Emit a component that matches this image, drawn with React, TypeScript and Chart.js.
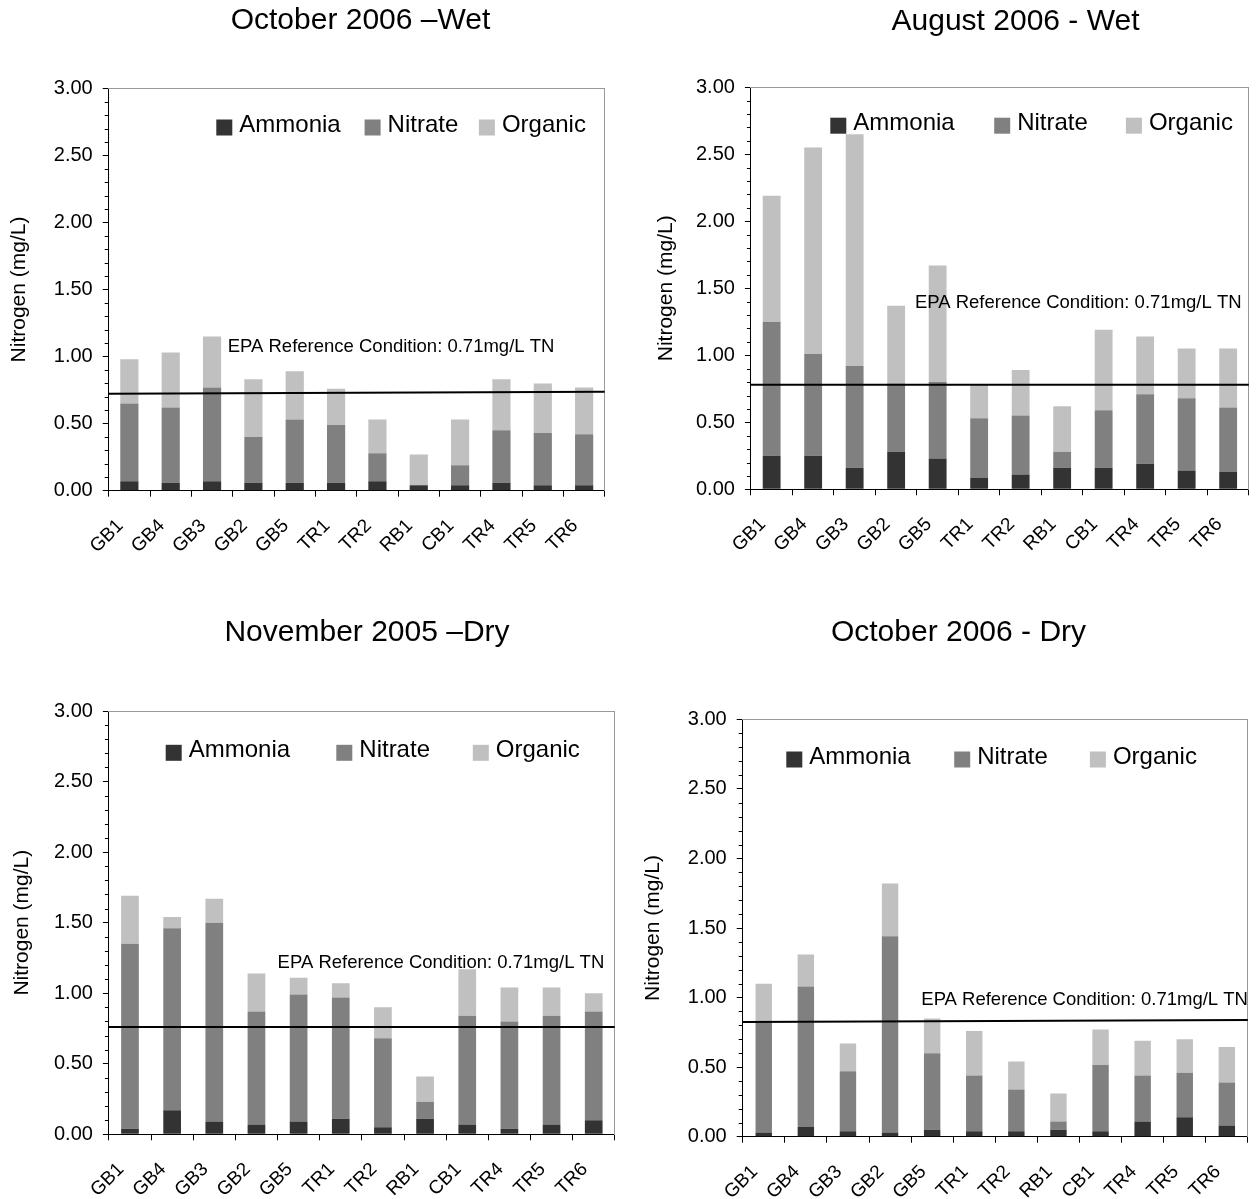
import React, { useEffect, useRef } from 'react';
import { Chart, registerables } from 'chart.js';

Chart.register(...registerables);

const FONT = "'Liberation Sans', Arial, sans-serif";
Chart.defaults.font.family = FONT;
Chart.defaults.color = '#000';

// ---------- data ----------
const categories = ['GB1', 'GB4', 'GB3', 'GB2', 'GB5', 'TR1', 'TR2', 'RB1', 'CB1', 'TR4', 'TR5', 'TR6'];
const seriesNames = ['Ammonia', 'Nitrate', 'Organic'];
const seriesColors = ['#333333', '#808080', '#c0c0c0'];
const yAxisTitle = 'Nitrogen (mg/L)';
const epaText = 'EPA Reference Condition: 0.71mg/L TN';
const yMin = 0;
const yMax = 3;
const yMajorStep = 0.5;
const yMinorStep = 0.1;

// October 2006 - Wet
const oct06WetAmmonia = [0.07, 0.06, 0.07, 0.06, 0.06, 0.06, 0.07, 0.04, 0.04, 0.06, 0.04, 0.04];
const oct06WetNitrate = [0.58, 0.56, 0.70, 0.34, 0.47, 0.43, 0.21, 0.0, 0.15, 0.39, 0.39, 0.38];
const oct06WetOrganic = [0.33, 0.41, 0.38, 0.43, 0.36, 0.27, 0.25, 0.23, 0.34, 0.38, 0.37, 0.35];
const oct06WetEpa = [0.723, 0.738];

// August 2006 - Wet
const aug06WetAmmonia = [0.25, 0.25, 0.16, 0.28, 0.23, 0.085, 0.11, 0.16, 0.16, 0.19, 0.14, 0.13];
const aug06WetNitrate = [1.00, 0.76, 0.76, 0.51, 0.57, 0.445, 0.44, 0.12, 0.43, 0.52, 0.54, 0.48];
const aug06WetOrganic = [0.94, 1.54, 1.73, 0.58, 0.87, 0.25, 0.34, 0.34, 0.60, 0.43, 0.37, 0.44];
const aug06WetEpa = [0.781, 0.781];

// November 2005 - Dry
const nov05DryAmmonia = [0.04, 0.17, 0.09, 0.07, 0.09, 0.11, 0.05, 0.11, 0.07, 0.04, 0.07, 0.10];
const nov05DryNitrate = [1.31, 1.29, 1.41, 0.80, 0.90, 0.86, 0.63, 0.12, 0.77, 0.76, 0.77, 0.77];
const nov05DryOrganic = [0.34, 0.08, 0.17, 0.27, 0.12, 0.10, 0.22, 0.18, 0.33, 0.24, 0.20, 0.13];
const nov05DryEpa = [0.761, 0.761];

// October 2006 - Dry
const oct06DryAmmonia = [0.03, 0.07, 0.04, 0.03, 0.05, 0.04, 0.04, 0.05, 0.04, 0.11, 0.14, 0.08];
const oct06DryNitrate = [0.79, 1.01, 0.43, 1.41, 0.55, 0.40, 0.30, 0.06, 0.475, 0.33, 0.32, 0.31];
const oct06DryOrganic = [0.28, 0.23, 0.20, 0.38, 0.25, 0.32, 0.20, 0.20, 0.255, 0.25, 0.24, 0.255];
const oct06DryEpa = [0.824, 0.839];

// ---------- layout / style (positions in page pixels) ----------
type Panel = {
  title: string;
  series: number[][];
  epa: number[];
  epaLabelValue: number;
  epaLabelX: number;
  top: number;
  height: number;
  plotL: number;
  plotR: number;
  plotT: number;
  plotB: number;
  titleCX: number;
  titleCY: number;
  yTitleCX: number;
  barPct: number;
  legendX: number[];
  legendY: number;
};

const panels: Panel[] = [
  {
    title: 'October 2006 \u2013Wet',
    series: [oct06WetAmmonia, oct06WetNitrate, oct06WetOrganic],
    epa: oct06WetEpa,
    epaLabelValue: 1.071,
    epaLabelX: 119,
    top: 0, height: 600,
    plotL: 109.1, plotR: 605.2, plotT: 88.3, plotB: 490.7,
    titleCX: 361, titleCY: 21, yTitleCX: 20,
    barPct: 0.44,
    legendX: [107.6, 255.9, 370.2], legendY: 37.2,
  },
  {
    title: 'August 2006 - Wet',
    series: [aug06WetAmmonia, aug06WetNitrate, aug06WetOrganic],
    epa: aug06WetEpa,
    epaLabelValue: 1.392,
    epaLabelX: 164,
    top: 0, height: 600,
    plotL: 751, plotR: 1249, plotT: 87.3, plotB: 489.3,
    titleCX: 1015.5, titleCY: 22, yTitleCX: 666.7,
    barPct: 0.43,
    legendX: [79.4, 243.3, 375], legendY: 36.4,
  },
  {
    title: 'November 2005 \u2013Dry',
    series: [nov05DryAmmonia, nov05DryNitrate, nov05DryOrganic],
    epa: nov05DryEpa,
    epaLabelValue: 1.212,
    epaLabelX: 168.7,
    top: 600, height: 599,
    plotL: 109.1, plotR: 615, plotT: 711, plotB: 1134.3,
    titleCX: 367, titleCY: 633, yTitleCX: 22.8,
    barPct: 0.42,
    legendX: [56.8, 227.4, 363.9], legendY: 39.8,
  },
  {
    title: 'October 2006 - Dry',
    series: [oct06DryAmmonia, oct06DryNitrate, oct06DryOrganic],
    epa: oct06DryEpa,
    epaLabelValue: 0.983,
    epaLabelX: 178.6,
    top: 600, height: 599,
    plotL: 743.1, plotR: 1248.3, plotT: 719.3, plotB: 1136.7,
    titleCX: 959, titleCY: 632.5, yTitleCX: 654,
    barPct: 0.39,
    legendX: [43.6, 211.5, 347.2], legendY: 38.2,
  },
];

const TITLE_SIZE = 30;
const YTITLE_SIZE = 21;
const YTICK_SIZE = 20;
const XTICK_SIZE = 19;
const LEGEND_SIZE = 24;
const EPA_SIZE = 18.5;
const FRAME = '#999999';

function geometry(p: Panel) {
  const yTitleLH = YTITLE_SIZE * 1.2;
  const left = p.yTitleCX - yTitleLH / 2;
  const width = Math.round(2 * (p.titleCX - left));
  const yW = p.plotL - left;
  const rW = left + width - p.plotR;
  const titleLH = TITLE_SIZE * 1.2;
  const padTop = p.titleCY - p.top - titleLH / 2;
  const padBottom = p.plotT - p.top - titleLH - padTop;
  const xH = p.top + p.height - p.plotB;
  return { left, width, yW, rW, padTop, padBottom, xH };
}

function makeDecor(p: Panel) {
  return {
    id: 'decor',
    afterDraw(chart: any) {
      const { ctx, chartArea, scales } = chart;
      const y = scales.y;
      ctx.save();
      // minor ticks on the y axis
      ctx.strokeStyle = '#000';
      ctx.lineWidth = 1;
      const n = Math.round((yMax - yMin) / yMinorStep);
      for (let i = 0; i <= n; i++) {
        const v = yMin + i * yMinorStep;
        const r = v / yMajorStep;
        if (Math.abs(r - Math.round(r)) < 1e-6) continue;
        const py = Math.round(y.getPixelForValue(v)) + 0.5;
        ctx.beginPath();
        ctx.moveTo(chartArea.left - 4, py);
        ctx.lineTo(chartArea.left, py);
        ctx.stroke();
      }
      // legend
      ctx.font = `${LEGEND_SIZE}px ${FONT}`;
      ctx.textBaseline = 'middle';
      ctx.textAlign = 'left';
      const box = 16;
      seriesNames.forEach((name, i) => {
        const bx = chartArea.left + p.legendX[i];
        const cy = chartArea.top + p.legendY;
        ctx.fillStyle = seriesColors[i];
        ctx.fillRect(bx, cy + 2 - box / 2, box, box);
        ctx.fillStyle = '#000';
        ctx.fillText(name, bx + 23, cy);
      });
      // EPA label
      ctx.font = `${EPA_SIZE}px ${FONT}`;
      ctx.fillStyle = '#000';
      ctx.fillText(epaText, chartArea.left + p.epaLabelX, y.getPixelForValue(p.epaLabelValue));
      ctx.restore();
    },
  };
}

function PanelChart({ p }: { p: Panel }) {
  const ref = useRef<HTMLCanvasElement>(null);
  const g = geometry(p);
  useEffect(() => {
    if (!ref.current) return;
    const datasets: any[] = p.series.map((vals, i) => ({
      type: 'bar',
      label: seriesNames[i],
      data: vals,
      backgroundColor: seriesColors[i],
      borderWidth: 0,
      barPercentage: p.barPct,
      categoryPercentage: 1,
      grouped: false,
      order: 1,
      xAxisID: 'x',
      yAxisID: 'y',
    }));
    datasets.push({
      type: 'line',
      label: 'EPA',
      data: [{ x: 0, y: p.epa[0] }, { x: 1, y: p.epa[1] }],
      borderColor: '#000',
      borderWidth: 2,
      pointRadius: 0,
      fill: false,
      order: 0,
      xAxisID: 'xEpa',
      yAxisID: 'y',
    });
    const chart = new Chart(ref.current, {
      type: 'bar',
      data: { labels: categories, datasets },
      options: {
        responsive: false,
        animation: false,
        devicePixelRatio: 1,
        layout: { padding: 0 },
        plugins: {
          legend: { display: false },
          tooltip: { enabled: false },
          title: {
            display: true,
            text: p.title,
            color: '#000',
            font: { size: TITLE_SIZE, weight: 'normal', family: FONT, lineHeight: 1.2 },
            padding: { top: g.padTop, bottom: g.padBottom },
          },
        },
        scales: {
          x: {
            type: 'category',
            position: 'bottom',
            stacked: true,
            offset: true,
            grid: { offset: true, drawOnChartArea: false, drawTicks: true, tickLength: 6, color: '#000' },
            border: { display: true, color: '#000', width: 1 },
            ticks: {
              autoSkip: false,
              maxRotation: 45,
              minRotation: 45,
              font: { size: XTICK_SIZE },
              color: '#000',
              padding: 18,
              labelOffset: -9,
            },
            afterFit: (s: any) => { s.height = g.xH; },
          },
          y: {
            type: 'linear',
            position: 'left',
            stacked: true,
            min: yMin,
            max: yMax,
            ticks: {
              stepSize: yMajorStep,
              callback: (v: any) => Number(v).toFixed(2),
              font: { size: YTICK_SIZE },
              color: '#000',
              padding: 10,
            },
            grid: { drawOnChartArea: false, drawTicks: true, tickLength: 6, color: '#000' },
            border: { display: true, color: '#000', width: 1 },
            title: {
              display: true,
              text: yAxisTitle,
              color: '#000',
              font: { size: YTITLE_SIZE, lineHeight: 1.2 },
              padding: 0,
            },
            afterFit: (s: any) => { s.width = g.yW; },
          },
          yPad: {
            type: 'linear',
            axis: 'y',
            position: 'right',
            display: true,
            offset: false,
            ticks: { display: false },
            grid: { display: true, drawOnChartArea: false, drawTicks: false },
            border: { display: true, color: FRAME, width: 1 },
            afterFit: (s: any) => { s.width = g.rW; },
          },
          xTop: {
            type: 'linear',
            axis: 'x',
            position: 'top',
            display: true,
            offset: false,
            ticks: { display: false },
            grid: { display: true, offset: false, drawOnChartArea: false, drawTicks: false },
            border: { display: true, color: FRAME, width: 1 },
            afterFit: (s: any) => { s.height = 0; },
          },
          xEpa: {
            type: 'linear',
            axis: 'x',
            position: 'bottom',
            display: false,
            offset: false,
            grid: { offset: false },
            min: 0,
            max: 1,
          },
        },
      } as any,
      plugins: [makeDecor(p)],
    });
    return () => chart.destroy();
  }, [p]);
  return (
    <canvas
      ref={ref}
      width={g.width}
      height={p.height}
      style={{ position: 'absolute', left: g.left, top: p.top, width: g.width, height: p.height, display: 'block' }}
    />
  );
}

export default function App() {
  return (
    <div
      style={{
        position: 'absolute',
        left: 0,
        top: 0,
        width: 1257,
        height: 1199,
        overflow: 'hidden',
        background: '#ffffff',
      }}
    >
      {panels.map((p, i) => (
        <PanelChart key={i} p={p} />
      ))}
    </div>
  );
}
